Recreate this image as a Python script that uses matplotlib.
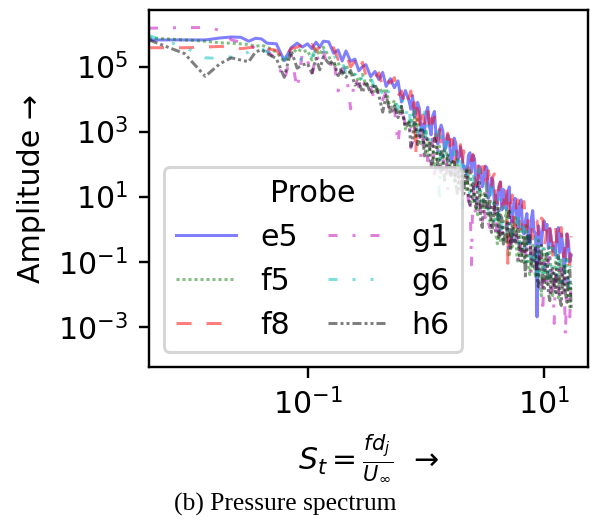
import numpy as np
import matplotlib
matplotlib.use("Agg")
import matplotlib.pyplot as plt
from matplotlib.ticker import NullLocator

# Strouhal number axis (shared by all probes), denser where the spectrum is noisy
st = [0.0045, 0.009, 0.0135, 0.018, 0.0225, 0.027, 0.0315, 0.036, 0.0405, 0.045,
      0.054, 0.063, 0.072, 0.081, 0.09, 0.099, 0.108, 0.117, 0.126, 0.135,
      0.15, 0.165, 0.18, 0.195, 0.21, 0.23, 0.25, 0.27, 0.29, 0.31,
      0.34, 0.37, 0.40, 0.43, 0.46, 0.50, 0.54, 0.58, 0.62, 0.67,
      0.72, 0.745, 0.77, 0.795, 0.82, 0.85, 0.88, 0.91, 0.94, 0.97,
      1.0, 1.035, 1.07, 1.105, 1.14, 1.18, 1.22, 1.26, 1.3, 1.345,
      1.39, 1.435, 1.48, 1.53, 1.58, 1.63, 1.68, 1.735, 1.79, 1.845,
      1.9, 1.96, 2.02, 2.085, 2.15, 2.22, 2.29, 2.36, 2.43, 2.505,
      2.58, 2.66, 2.74, 2.825, 2.91, 3.0, 3.09, 3.185, 3.28, 3.38,
      3.48, 3.585, 3.69, 3.8, 3.91, 4.03, 4.15, 4.275, 4.4, 4.53,
      4.66, 4.8, 4.94, 5.085, 5.23, 5.385, 5.54, 5.705, 5.87, 6.04,
      6.21, 6.395, 6.58, 6.77, 6.96, 7.165, 7.37, 7.585, 7.8, 8.025,
      8.25, 8.49, 8.73, 8.985, 9.24, 9.505, 9.77, 10.03, 10.3, 10.6,
      10.9, 11.2, 11.5, 11.85, 12.2, 12.55, 12.9, 13.25, 13.6, 14.0,
      14.4, 14.8, 15.2, 15.65, 16.1, 16.55, 17.0]

# log10 of the amplitude
e5 = [5.82, 5.82, 5.82, 5.88, 5.91, 5.90, 5.78, 5.87, 5.85, 5.72,
      5.70, 5.18, 5.58, 5.72, 5.60, 5.70, 5.55, 5.75, 5.60, 5.78,
      5.76, 5.41, 5.51, 5.17, 5.48, 5.16, 5.23, 4.87, 5.00, 5.06,
      4.69, 4.85, 4.60, 4.82, 4.39, 4.63, 4.35, 4.56, 3.91, 4.26,
      3.93, 3.69, 4.11, 3.45, 3.56, 3.90, 3.71, 3.05, 3.23, 2.98,
      3.55, 3.75, 3.17, 2.90, 3.48, 3.62, 2.82, 2.62, 3.02, 3.20,
      3.02, 2.40, 2.53, 2.90, 2.74, 2.05, 2.22, 2.80, 2.65, 2.05,
      2.22, 2.53, 2.24, 1.86, 1.92, 1.70, 2.27, 2.35, 1.75, 2.27,
      2.17, 1.30, 1.43, 1.94, 1.81, 1.30, 1.51, 1.94, 1.89, 0.95,
      1.07, 1.58, 1.49, 0.85, 1.03, 0.75, 1.33, 1.45, 0.59, 1.22,
      0.97, 0.60, 1.11, 1.30, 0.42, 0.20, 0.76, 0.95, 0.38, 0.05,
      0.77, 0.90, 0.07, -0.15, 0.25, 0.48, -0.24, -0.45, 0.30, 0.57,
      -0.07, -0.12, -2.70, 0.10, -0.15, -0.48, 0.00, 0.25, -0.02, 0.15,
      -0.60, 0.01, -0.21, -0.68, -0.54, -0.80, -0.07, 0.05, -0.72, -0.15,
      -0.45, -1.15, -0.98, -0.15, -0.35, -1.00, -0.80]
f5 = [5.88, 5.82, 5.78, 5.73, 5.72, 5.70, 5.68, 5.62, 5.66, 5.60,
      5.45, 5.15, 5.35, 5.55, 5.45, 5.50, 5.20, 5.55, 5.35, 5.60,
      5.32, 4.99, 5.13, 4.77, 5.06, 4.74, 4.75, 4.53, 4.76, 4.42,
      4.59, 4.19, 4.36, 4.18, 4.33, 3.64, 3.97, 3.53, 3.77, 3.08,
      3.38, 3.15, 3.47, 3.65, 2.84, 3.38, 3.11, 2.63, 2.75, 2.50,
      3.07, 2.25, 2.43, 2.69, 2.57, 1.90, 2.09, 2.61, 2.56, 1.75,
      2.01, 2.46, 2.44, 1.70, 1.90, 2.10, 2.01, 1.47, 1.94, 2.15,
      1.38, 1.15, 1.66, 1.79, 1.31, 1.15, 1.67, 1.85, 1.04, 0.85,
      1.14, 0.74, 0.44, 0.94, 1.19, 0.69, 0.59, 1.09, 1.04, 0.49,
      0.24, 0.09, 0.59, 0.85, -0.16, -0.45, 0.69, -0.35, 0.04, -0.41,
      0.29, 0.55, -0.51, -0.85, -0.10, -0.55, 0.10, 0.35, -0.75, -1.05,
      -0.24, 0.05, -0.79, -1.09, -0.14, 0.10, -1.08, -1.40, -0.73, -0.49,
      -1.14, -1.50, -0.63, -0.35, -1.72, -2.05, -0.93, -0.60, -1.38, -1.68,
      -0.88, -0.55, -1.76, -2.05, -1.31, -1.01, -2.03, -2.11, -1.30, -0.95,
      -1.85, -1.94, -1.13, -0.85, -2.17, -2.40, -1.67]
f8 = [5.58, 5.58, 5.60, 5.62, 5.60, 5.55, 5.58, 5.60, 5.62, 5.55,
      5.50, 5.20, 5.55, 5.60, 5.65, 5.50, 5.68, 5.45, 5.62, 5.50,
      5.51, 5.58, 5.22, 5.34, 5.39, 4.99, 5.16, 4.90, 5.13, 4.73,
      4.84, 4.66, 4.81, 4.37, 4.60, 4.49, 4.66, 4.09, 4.25, 3.76,
      4.06, 4.25, 3.67, 3.90, 2.30, 3.93, 3.33, 3.05, 3.51, 3.25,
      3.53, 3.70, 3.03, 3.40, 3.25, 3.45, 2.71, 3.23, 3.15, 2.55,
      2.70, 2.80, 2.72, 2.95, 2.39, 2.76, 2.74, 2.05, 2.21, 2.65,
      2.47, 2.60, 1.89, 2.41, 2.14, 1.76, 1.89, 1.65, 2.15, 2.30,
      1.57, 1.35, 1.99, 1.38, 1.53, 1.92, 1.83, 2.00, 1.09, 1.80,
      1.47, 1.22, 1.61, 1.70, 0.91, 0.74, 1.25, 1.45, 0.87, 0.65,
      1.25, 1.30, -1.05, 1.00, 0.74, 1.05, 0.24, 0.05, 0.78, 0.90,
      0.21, 0.00, 0.71, 0.85, 0.13, 0.00, 0.28, 0.39, 0.22, -0.30,
      -0.09, 0.26, 0.25, -0.16, -0.13, 0.34, 0.30, -0.49, -0.36, 0.05,
      -0.10, 0.10, -0.63, -0.85, 0.00, 0.05, -0.45, -0.48, -0.06, 0.05,
      -0.67, -0.86, -0.36, -0.10, -0.93, -1.10, -0.22]
g1 = [6.18, 6.20, 6.20, 6.12, 5.82, 5.75, 5.70, 5.55, 5.65, 5.50,
      5.20, 4.55, 5.40, 4.30, 5.45, 5.20, 4.70, 5.40, 5.10, 5.45,
      4.90, 5.28, 4.25, 4.94, 4.90, 3.70, 4.67, 4.38, 4.70, 4.19,
      4.36, 3.92, 4.36, 3.98, 4.22, 3.53, 3.76, 2.60, 3.77, 3.20,
      3.36, 2.50, 2.68, 3.15, 2.98, 3.20, 3.10, 2.15, 2.38, 3.05,
      2.76, 2.10, 2.29, 1.95, 2.78, 1.70, 1.98, 2.45, 2.24, 1.65,
      1.92, 2.31, 2.26, 1.20, 1.42, 2.10, 1.96, 1.43, 1.57, 1.92,
      1.87, 1.06, 1.17, 1.56, 1.42, 1.60, 0.84, 1.05, -1.10, 1.40,
      0.69, 0.40, 1.29, 1.40, 0.29, 0.14, 0.69, 0.35, 0.79, 0.19,
      0.04, 0.74, 0.49, 0.70, -0.31, 0.64, 0.49, -0.41, -0.16, 0.09,
      -0.06, 0.15, -0.51, -0.80, 0.15, 0.30, -0.65, 0.00, -0.15, -1.05,
      -1.04, -0.30, -0.54, -0.99, -0.89, -0.25, -0.38, -0.15, -1.38, -0.55,
      -0.77, -0.55, -1.41, -0.62, -0.91, -0.70, -2.60, -1.03, -1.30, -1.69,
      -1.00, -0.80, -1.95, -1.20, -2.90, -1.19, -1.81, -2.02, -1.14, -0.95,
      -2.09, -1.40, -3.30, -1.51, -2.37, -2.70, -1.46]
g6 = [5.95, 5.60, 5.27, 5.25, 5.30, 5.36, 5.45, 5.60, 5.55, 5.45,
      5.35, 5.27, 5.40, 5.30, 5.20, 5.45, 5.30, 5.55, 5.35, 5.50,
      5.28, 5.41, 5.03, 5.13, 4.82, 5.00, 4.75, 4.95, 4.52, 4.66,
      4.67, 4.33, 4.48, 4.12, 4.39, 4.07, 4.08, 3.71, 4.13, 3.50,
      3.81, 3.00, 3.12, 3.71, 3.44, 2.93, 3.15, 2.95, 3.45, 3.60,
      2.72, 3.23, 3.07, 2.59, 2.64, 2.90, 2.87, 3.00, 0.80, 2.85,
      2.51, 2.11, 2.62, 2.75, 1.97, 1.75, 2.26, 2.40, 1.91, 1.64,
      2.23, 2.35, 0.45, 1.95, 1.74, 1.97, 1.28, 1.05, 1.75, 1.85,
      1.09, 0.79, 1.74, 1.85, 1.04, 0.75, 1.24, 1.39, 1.19, 0.30,
      0.44, 1.29, 0.89, 0.25, 0.44, 0.20, 0.99, -0.10, 0.14, 0.69,
      0.44, 0.70, -0.26, 0.60, 0.50, -0.30, -0.10, -0.35, 0.35, 0.55,
      -0.44, 0.26, -0.09, 0.05, -0.84, -1.05, 0.02, -0.85, -0.63, -0.98,
      -0.42, -0.27, -1.22, -1.40, -0.82, -0.40, -0.61, -1.49, -1.42, -0.65,
      -0.88, -1.60, -1.38, -0.55, -0.68, -0.50, -1.58, -0.76, -1.18, -1.76,
      -1.48, -1.75, -0.98, -0.80, -1.93, -1.11, -1.18]
h6 = [5.82, 5.40, 4.70, 5.09, 5.27, 5.20, 5.15, 5.45, 5.52, 5.40,
      5.25, 4.67, 5.50, 4.95, 5.05, 5.10, 4.80, 5.25, 4.90, 5.30,
      5.10, 5.18, 4.72, 4.92, 4.67, 4.88, 4.43, 4.53, 4.20, 4.55,
      4.17, 4.47, 4.10, 3.60, 4.11, 3.54, 3.79, 3.43, 3.78, 3.12,
      3.28, 2.55, 2.74, 3.29, 3.24, 2.60, 2.77, 3.13, 3.03, 2.25,
      2.44, 2.78, 2.64, 1.95, 2.08, 2.80, 2.63, 1.95, 2.14, 2.43,
      2.27, 1.50, 1.67, 2.28, 1.91, 1.64, 2.02, 2.15, 1.38, 1.10,
      1.70, 1.90, 1.28, 1.00, 1.70, 1.80, 1.00, 0.75, 1.22, 1.40,
      0.84, 0.64, 1.29, 1.45, 0.29, 0.05, 0.99, 1.15, 0.54, 0.39,
      0.94, -0.10, 0.09, 0.79, 0.44, 0.65, -0.26, 0.44, 0.34, -0.46,
      -0.21, -0.45, 0.39, 0.55, -0.60, 0.15, -0.20, -0.45, -0.10, 0.05,
      -0.84, -0.99, -0.39, -0.20, -1.50, -0.15, -0.38, -0.20, -1.03, -1.22,
      -0.96, -0.53, -1.48, -1.77, -0.68, -0.50, -1.61, -1.90, -0.95, -0.75,
      -1.97, -2.20, -1.30, -1.21, -1.65, -1.95, -0.98, -0.80, -2.11, -2.35,
      -1.38, -1.10, -1.97, -2.25, -1.42, -1.20, -2.43]

probes = ["e5", "f5", "f8", "g1", "g6", "h6"]
series = [e5, f5, f8, g1, g6, h6]
colors = ["b", "g", "r", "m", "c", "k"]
styles = ["-", (0, (1, 1)), (0, (5, 5)), (0, (3, 5, 1, 5)),
          (0, (3, 5, 1, 5, 1, 5)), (0, (3, 1, 1, 1, 1, 1))]

fig = plt.figure(figsize=(595 / 216, 521 / 216), dpi=216)
ax = fig.add_axes([0.2504, 0.2956, 0.7378, 0.6852])

x = np.array(st)
for name, vals, col, ls in zip(probes, series, colors, styles):
    ax.plot(x, 10.0 ** np.array(vals), color=col, ls=ls, lw=1, alpha=0.5, label=name)

ax.set_xscale("log")
ax.set_yscale("log")
ax.set_xlim(0.0045, 23.6)
ax.set_ylim(10 ** -4.24, 10 ** 6.74)
ax.set_xticks([1e-1, 1e1])
ax.set_yticks([1e-3, 1e-1, 1e1, 1e3, 1e5])
ax.xaxis.set_minor_locator(NullLocator())
ax.yaxis.set_minor_locator(NullLocator())

ax.set_xlabel(r"$S_t = \frac{fd_j}{U_\infty}$  →")
ax.set_ylabel("Amplitude →")
ax.legend(title="Probe", ncol=2, loc="lower left", columnspacing=1.0)

fig.text(0.48, 0.031, "(b) Pressure spectrum", ha="center", va="center",
         family="Liberation Serif", fontsize=8.5)

plt.savefig("out.png", dpi=216)
